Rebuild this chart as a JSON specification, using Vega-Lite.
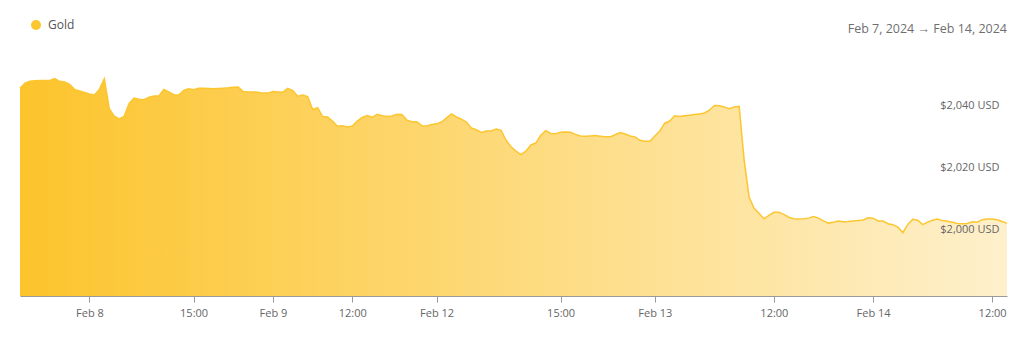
{
  "$schema": "https://vega.github.io/schema/vega-lite/v6.json",
  "width": 987,
  "height": 246,
  "autosize": {"type": "none"},
  "padding": {"left": 20, "top": 50, "right": 17, "bottom": 46},
  "background": "#ffffff",
  "config": {"view": {"stroke": null}, "font": "Open Sans"},
  "title": {"text": "Feb 7, 2024  →  Feb 14, 2024", "anchor": "end", "fontSize": 12.5, "fontWeight": "normal", "color": "#6f6f6f", "font": "Open Sans", "offset": -16, "dx": -3},
  "data": {"values": [
    {"t": "2024-02-07T17:00", "v": 2045.4},
    {"t": "2024-02-07T17:30", "v": 2047.0},
    {"t": "2024-02-07T18:00", "v": 2047.6},
    {"t": "2024-02-07T18:30", "v": 2047.8},
    {"t": "2024-02-07T19:00", "v": 2047.9},
    {"t": "2024-02-07T19:30", "v": 2047.9},
    {"t": "2024-02-07T20:00", "v": 2047.9},
    {"t": "2024-02-07T20:30", "v": 2048.5},
    {"t": "2024-02-07T21:00", "v": 2047.6},
    {"t": "2024-02-07T21:30", "v": 2047.4},
    {"t": "2024-02-07T22:00", "v": 2046.6},
    {"t": "2024-02-07T22:30", "v": 2045.0},
    {"t": "2024-02-07T23:00", "v": 2044.5},
    {"t": "2024-02-07T23:30", "v": 2044.0},
    {"t": "2024-02-08T00:00", "v": 2043.5},
    {"t": "2024-02-08T01:00", "v": 2043.2},
    {"t": "2024-02-08T02:00", "v": 2045.0},
    {"t": "2024-02-08T03:00", "v": 2048.4},
    {"t": "2024-02-08T04:00", "v": 2038.8},
    {"t": "2024-02-08T05:00", "v": 2036.4},
    {"t": "2024-02-08T06:00", "v": 2035.5},
    {"t": "2024-02-08T07:00", "v": 2036.3},
    {"t": "2024-02-08T08:00", "v": 2040.5},
    {"t": "2024-02-08T09:00", "v": 2042.2},
    {"t": "2024-02-08T09:30", "v": 2041.8},
    {"t": "2024-02-08T10:00", "v": 2041.7},
    {"t": "2024-02-08T10:30", "v": 2042.5},
    {"t": "2024-02-08T11:00", "v": 2042.9},
    {"t": "2024-02-08T11:30", "v": 2042.9},
    {"t": "2024-02-08T12:00", "v": 2045.0},
    {"t": "2024-02-08T12:30", "v": 2044.2},
    {"t": "2024-02-08T13:00", "v": 2043.3},
    {"t": "2024-02-08T13:30", "v": 2043.2},
    {"t": "2024-02-08T14:00", "v": 2044.7},
    {"t": "2024-02-08T14:30", "v": 2045.2},
    {"t": "2024-02-08T15:00", "v": 2044.9},
    {"t": "2024-02-08T15:30", "v": 2045.4},
    {"t": "2024-02-08T16:00", "v": 2045.4},
    {"t": "2024-02-08T16:30", "v": 2045.3},
    {"t": "2024-02-08T17:00", "v": 2045.2},
    {"t": "2024-02-08T18:00", "v": 2045.3},
    {"t": "2024-02-08T19:00", "v": 2045.4},
    {"t": "2024-02-08T19:30", "v": 2045.5},
    {"t": "2024-02-08T20:00", "v": 2045.7},
    {"t": "2024-02-08T20:30", "v": 2045.8},
    {"t": "2024-02-08T21:00", "v": 2044.3},
    {"t": "2024-02-08T21:30", "v": 2044.2},
    {"t": "2024-02-08T22:00", "v": 2044.2},
    {"t": "2024-02-08T22:30", "v": 2044.1},
    {"t": "2024-02-08T23:00", "v": 2043.8},
    {"t": "2024-02-08T23:30", "v": 2043.8},
    {"t": "2024-02-09T00:00", "v": 2044.3},
    {"t": "2024-02-09T01:00", "v": 2044.2},
    {"t": "2024-02-09T02:00", "v": 2044.1},
    {"t": "2024-02-09T03:00", "v": 2045.3},
    {"t": "2024-02-09T04:00", "v": 2044.6},
    {"t": "2024-02-09T05:00", "v": 2042.8},
    {"t": "2024-02-09T06:00", "v": 2043.2},
    {"t": "2024-02-09T07:00", "v": 2042.7},
    {"t": "2024-02-09T08:00", "v": 2038.5},
    {"t": "2024-02-09T08:30", "v": 2039.1},
    {"t": "2024-02-09T09:00", "v": 2036.3},
    {"t": "2024-02-09T09:30", "v": 2036.1},
    {"t": "2024-02-09T10:00", "v": 2034.8},
    {"t": "2024-02-09T10:30", "v": 2033.1},
    {"t": "2024-02-09T11:00", "v": 2033.3},
    {"t": "2024-02-09T11:30", "v": 2032.9},
    {"t": "2024-02-09T12:00", "v": 2033.2},
    {"t": "2024-02-09T12:30", "v": 2034.8},
    {"t": "2024-02-09T13:00", "v": 2036.0},
    {"t": "2024-02-09T13:30", "v": 2036.6},
    {"t": "2024-02-09T14:00", "v": 2036.0},
    {"t": "2024-02-09T14:30", "v": 2037.0},
    {"t": "2024-02-09T15:00", "v": 2036.5},
    {"t": "2024-02-09T15:30", "v": 2036.3},
    {"t": "2024-02-09T16:00", "v": 2036.4},
    {"t": "2024-02-09T16:30", "v": 2037.0},
    {"t": "2024-02-09T17:00", "v": 2036.9},
    {"t": "2024-02-11T18:00", "v": 2035.1},
    {"t": "2024-02-11T19:00", "v": 2034.6},
    {"t": "2024-02-11T20:00", "v": 2034.6},
    {"t": "2024-02-11T21:00", "v": 2033.3},
    {"t": "2024-02-11T22:00", "v": 2033.2},
    {"t": "2024-02-11T23:00", "v": 2033.7},
    {"t": "2024-02-12T00:00", "v": 2033.9},
    {"t": "2024-02-12T01:00", "v": 2034.5},
    {"t": "2024-02-12T02:00", "v": 2035.8},
    {"t": "2024-02-12T03:00", "v": 2037.1},
    {"t": "2024-02-12T04:00", "v": 2036.1},
    {"t": "2024-02-12T05:00", "v": 2035.4},
    {"t": "2024-02-12T05:30", "v": 2034.5},
    {"t": "2024-02-12T06:00", "v": 2032.6},
    {"t": "2024-02-12T06:30", "v": 2032.0},
    {"t": "2024-02-12T07:00", "v": 2031.1},
    {"t": "2024-02-12T07:30", "v": 2031.6},
    {"t": "2024-02-12T08:00", "v": 2031.6},
    {"t": "2024-02-12T08:30", "v": 2032.2},
    {"t": "2024-02-12T09:00", "v": 2031.8},
    {"t": "2024-02-12T09:30", "v": 2028.6},
    {"t": "2024-02-12T10:00", "v": 2026.5},
    {"t": "2024-02-12T10:30", "v": 2025.1},
    {"t": "2024-02-12T11:00", "v": 2024.0},
    {"t": "2024-02-12T11:30", "v": 2025.1},
    {"t": "2024-02-12T12:00", "v": 2027.1},
    {"t": "2024-02-12T12:30", "v": 2027.7},
    {"t": "2024-02-12T13:00", "v": 2030.2},
    {"t": "2024-02-12T13:30", "v": 2031.7},
    {"t": "2024-02-12T14:00", "v": 2030.8},
    {"t": "2024-02-12T14:30", "v": 2030.7},
    {"t": "2024-02-12T15:00", "v": 2031.2},
    {"t": "2024-02-12T15:15", "v": 2031.3},
    {"t": "2024-02-12T15:30", "v": 2031.2},
    {"t": "2024-02-12T15:45", "v": 2030.5},
    {"t": "2024-02-12T16:00", "v": 2030.0},
    {"t": "2024-02-12T16:30", "v": 2029.9},
    {"t": "2024-02-12T17:00", "v": 2030.0},
    {"t": "2024-02-12T18:00", "v": 2030.1},
    {"t": "2024-02-12T18:30", "v": 2029.9},
    {"t": "2024-02-12T19:00", "v": 2029.7},
    {"t": "2024-02-12T19:30", "v": 2029.7},
    {"t": "2024-02-12T20:00", "v": 2030.4},
    {"t": "2024-02-12T20:30", "v": 2031.1},
    {"t": "2024-02-12T21:00", "v": 2030.6},
    {"t": "2024-02-12T21:30", "v": 2030.0},
    {"t": "2024-02-12T22:00", "v": 2029.7},
    {"t": "2024-02-12T22:30", "v": 2028.6},
    {"t": "2024-02-12T23:00", "v": 2028.3},
    {"t": "2024-02-12T23:30", "v": 2028.3},
    {"t": "2024-02-13T00:00", "v": 2030.0},
    {"t": "2024-02-13T00:30", "v": 2031.6},
    {"t": "2024-02-13T01:00", "v": 2034.1},
    {"t": "2024-02-13T01:30", "v": 2034.8},
    {"t": "2024-02-13T02:00", "v": 2036.5},
    {"t": "2024-02-13T02:30", "v": 2036.3},
    {"t": "2024-02-13T03:00", "v": 2036.5},
    {"t": "2024-02-13T03:30", "v": 2036.7},
    {"t": "2024-02-13T04:00", "v": 2036.9},
    {"t": "2024-02-13T04:30", "v": 2037.1},
    {"t": "2024-02-13T05:00", "v": 2037.4},
    {"t": "2024-02-13T05:30", "v": 2038.3},
    {"t": "2024-02-13T06:00", "v": 2039.8},
    {"t": "2024-02-13T06:30", "v": 2039.7},
    {"t": "2024-02-13T07:00", "v": 2039.3},
    {"t": "2024-02-13T07:30", "v": 2038.8},
    {"t": "2024-02-13T08:00", "v": 2039.3},
    {"t": "2024-02-13T08:30", "v": 2039.5},
    {"t": "2024-02-13T09:00", "v": 2022.3},
    {"t": "2024-02-13T09:30", "v": 2010.3},
    {"t": "2024-02-13T10:00", "v": 2006.7},
    {"t": "2024-02-13T10:30", "v": 2005.1},
    {"t": "2024-02-13T11:00", "v": 2003.3},
    {"t": "2024-02-13T11:30", "v": 2004.4},
    {"t": "2024-02-13T12:00", "v": 2005.4},
    {"t": "2024-02-13T12:30", "v": 2005.4},
    {"t": "2024-02-13T13:00", "v": 2004.7},
    {"t": "2024-02-13T13:30", "v": 2003.8},
    {"t": "2024-02-13T14:00", "v": 2003.3},
    {"t": "2024-02-13T14:30", "v": 2003.2},
    {"t": "2024-02-13T15:00", "v": 2003.3},
    {"t": "2024-02-13T15:30", "v": 2003.5},
    {"t": "2024-02-13T16:00", "v": 2004.0},
    {"t": "2024-02-13T16:30", "v": 2003.5},
    {"t": "2024-02-13T17:00", "v": 2002.6},
    {"t": "2024-02-13T18:00", "v": 2001.9},
    {"t": "2024-02-13T19:00", "v": 2002.2},
    {"t": "2024-02-13T20:00", "v": 2002.6},
    {"t": "2024-02-13T21:00", "v": 2002.3},
    {"t": "2024-02-13T21:30", "v": 2002.4},
    {"t": "2024-02-13T22:00", "v": 2002.6},
    {"t": "2024-02-13T22:30", "v": 2002.7},
    {"t": "2024-02-13T23:00", "v": 2002.9},
    {"t": "2024-02-13T23:30", "v": 2003.6},
    {"t": "2024-02-14T00:00", "v": 2003.5},
    {"t": "2024-02-14T00:30", "v": 2002.6},
    {"t": "2024-02-14T01:00", "v": 2002.6},
    {"t": "2024-02-14T01:30", "v": 2001.7},
    {"t": "2024-02-14T02:00", "v": 2001.4},
    {"t": "2024-02-14T02:30", "v": 2000.6},
    {"t": "2024-02-14T03:00", "v": 1998.8},
    {"t": "2024-02-14T03:30", "v": 2001.5},
    {"t": "2024-02-14T04:00", "v": 2003.1},
    {"t": "2024-02-14T04:30", "v": 2002.8},
    {"t": "2024-02-14T05:00", "v": 2001.4},
    {"t": "2024-02-14T05:30", "v": 2002.2},
    {"t": "2024-02-14T06:00", "v": 2002.8},
    {"t": "2024-02-14T06:30", "v": 2003.2},
    {"t": "2024-02-14T07:00", "v": 2002.7},
    {"t": "2024-02-14T07:30", "v": 2002.5},
    {"t": "2024-02-14T08:00", "v": 2002.2},
    {"t": "2024-02-14T08:30", "v": 2001.8},
    {"t": "2024-02-14T09:00", "v": 2001.7},
    {"t": "2024-02-14T09:30", "v": 2001.8},
    {"t": "2024-02-14T10:00", "v": 2002.3},
    {"t": "2024-02-14T10:30", "v": 2002.2},
    {"t": "2024-02-14T11:00", "v": 2003.0},
    {"t": "2024-02-14T11:30", "v": 2003.2},
    {"t": "2024-02-14T12:00", "v": 2003.2},
    {"t": "2024-02-14T12:30", "v": 2003.0},
    {"t": "2024-02-14T13:00", "v": 2002.4},
    {"t": "2024-02-14T13:30", "v": 2001.8}
  ]},
  "encoding": {
    "x": {
      "field": "t",
      "type": "ordinal",
      "scale": {"type": "point", "padding": 0},
      "axis": {
        "title": null,
        "values": ["2024-02-08T00:00", "2024-02-08T15:00", "2024-02-09T00:00", "2024-02-09T12:00", "2024-02-12T00:00", "2024-02-12T15:00", "2024-02-13T00:00", "2024-02-13T12:00", "2024-02-14T00:00", "2024-02-14T12:00"],
        "labelExpr": "timeFormat(toDate(datum.value), hours(toDate(datum.value)) == 0 ? '%b %-d' : '%H:%M')",
        "labelAngle": 0,
        "labelFont": "Open Sans",
        "labelFontSize": 11,
        "labelColor": "#666666",
        "labelPadding": 5,
        "tickSize": 6,
        "tickColor": "#9a9a9a",
        "domainColor": "#9a9a9a",
        "grid": false,
        "zindex": 1
      }
    },
    "y": {
      "field": "v",
      "type": "quantitative",
      "scale": {"domain": [1978.4, 2057.7], "nice": false, "zero": false},
      "axis": {
        "title": null,
        "orient": "right",
        "values": [2000, 2020, 2040],
        "labelExpr": "'$' + format(datum.value, ',') + ' USD'",
        "ticks": false,
        "tickSize": 0,
        "domain": false,
        "grid": false,
        "labelAlign": "right",
        "labelPadding": -8,
        "labelOffset": 1,
        "labelFont": "Open Sans",
        "labelFontSize": 11,
        "labelColor": "#666666",
        "zindex": 1
      }
    }
  },
  "layer": [
    {
      "mark": {
        "type": "area",
        "clip": true,
        "color": {
          "gradient": "linear",
          "x1": 0, "y1": 0, "x2": 1, "y2": 0,
          "stops": [
            {"offset": 0, "color": "#FCC42C"},
            {"offset": 1, "color": "#FEF0CC"}
          ]
        }
      }
    },
    {
      "mark": {"type": "line", "strokeWidth": 1.5},
      "encoding": {
        "color": {
          "datum": "Gold",
          "scale": {"range": ["#FCC630"]},
          "legend": {
            "title": null,
            "orient": "none",
            "legendX": 10,
            "legendY": -31,
            "padding": 0,
            "symbolType": "circle",
            "symbolSize": 100,
            "labelOffset": 6,
            "labelFont": "Open Sans",
            "labelFontSize": 12,
            "labelColor": "#555555",
            "encode": {"symbols": {"update": {"fill": {"value": "#FCC630"}, "strokeWidth": {"value": 0}}}}
          }
        }
      }
    }
  ]
}
